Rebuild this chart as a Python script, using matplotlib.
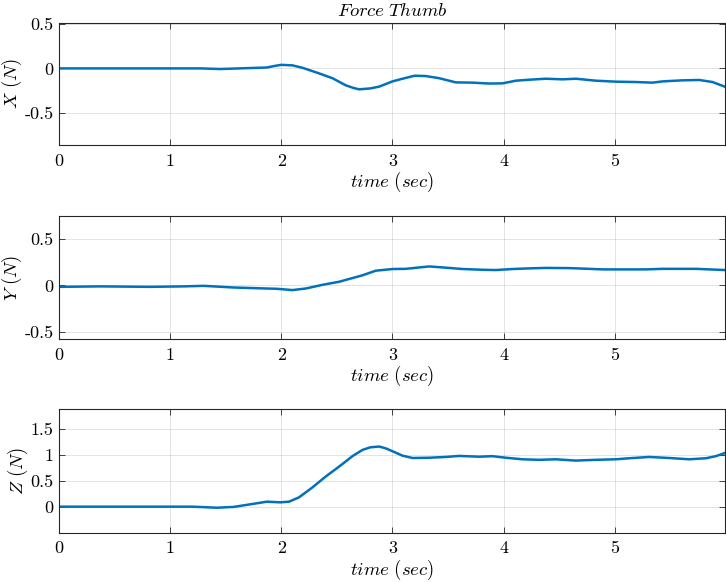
import matplotlib
matplotlib.use("Agg")
import matplotlib.pyplot as plt

plt.rcParams["mathtext.fontset"] = "cm"
plt.rcParams["font.family"] = "serif"
plt.rcParams["font.serif"] = ["cmr10"]
plt.rcParams["axes.formatter.use_mathtext"] = True

LINE_COLOR = "#0072BD"
EDGE_COLOR = "#262626"

# force along X (N)
t_x = [0.0, 0.5, 1.0, 1.27, 1.45, 1.72, 1.87, 1.95, 2.0, 2.1, 2.19, 2.34, 2.46, 2.58,
       2.65, 2.7, 2.73, 2.8, 2.88, 3.0, 3.09, 3.2, 3.3, 3.42, 3.57, 3.72, 3.87, 3.99, 4.11,
       4.23, 4.38, 4.53, 4.65, 4.83, 5.01, 5.19, 5.34, 5.43, 5.61, 5.76, 5.88, 5.99]
f_x = [0.0, 0.0, 0.0, 0.0, -0.007, 0.004, 0.01, 0.03, 0.04, 0.034, 0.007, -0.056, -0.11, -0.19,
       -0.22, -0.235, -0.232, -0.225, -0.205, -0.146, -0.116, -0.082, -0.086, -0.11, -0.157, -0.16, -0.17, -0.168, -0.138,
       -0.127, -0.116, -0.123, -0.116, -0.138, -0.149, -0.153, -0.16, -0.146, -0.134, -0.13, -0.153, -0.205]

# force along Y (N)
t_y = [0.0, 0.37, 0.82, 1.12, 1.3, 1.57, 1.87, 1.96, 2.1, 2.22, 2.37, 2.52, 2.73,
       2.85, 3.0, 3.12, 3.33, 3.51, 3.63, 3.81, 3.93, 4.08, 4.23, 4.38, 4.59, 4.77,
       4.89, 5.07, 5.28, 5.43, 5.73, 5.99]
f_y = [-0.015, -0.01, -0.015, -0.01, -0.004, -0.022, -0.033, -0.036, -0.05, -0.033, 0.007, 0.04, 0.11,
       0.16, 0.178, 0.18, 0.206, 0.19, 0.178, 0.17, 0.167, 0.178, 0.185, 0.19, 0.188, 0.18,
       0.174, 0.174, 0.174, 0.18, 0.18, 0.167]

# force along Z (N)
t_z = [0.0, 0.6, 1.2, 1.42, 1.57, 1.72, 1.87, 1.99, 2.07, 2.16, 2.28, 2.4, 2.52, 2.64,
       2.73, 2.8, 2.88, 2.94, 3.0, 3.09, 3.18, 3.33, 3.48, 3.6, 3.78, 3.9, 4.02, 4.17, 4.32, 4.47,
       4.65, 4.83, 5.01, 5.13, 5.31, 5.49, 5.67, 5.82, 5.91, 5.99]
f_z = [0.0, 0.0, 0.0, -0.02, -0.005, 0.045, 0.096, 0.083, 0.096, 0.18, 0.37, 0.58, 0.77, 0.97,
       1.09, 1.14, 1.155, 1.12, 1.065, 0.98, 0.935, 0.94, 0.955, 0.975, 0.96, 0.97, 0.94, 0.91, 0.9, 0.91,
       0.885, 0.9, 0.91, 0.93, 0.955, 0.935, 0.91, 0.93, 0.97, 1.03]

x_ticks = [0, 1, 2, 3, 4, 5]
panels = [
    (t_x, f_x, r"$X\ (N)$", (-0.86, 0.51), [-0.5, 0, 0.5], ["-0.5", "0", "0.5"], [0.0813, 0.7509, 0.917, 0.2096]),
    (t_y, f_y, r"$Y\ (N)$", (-0.58, 0.75), [-0.5, 0, 0.5], ["-0.5", "0", "0.5"], [0.0813, 0.4175, 0.917, 0.2110]),
    (t_z, f_z, r"$Z\ (N)$", (-0.5, 1.87), [0, 0.5, 1, 1.5], ["0", "0.5", "1", "1.5"], [0.0813, 0.0847, 0.917, 0.2120]),
]

fig = plt.figure(figsize=(7.26, 5.82), dpi=100)

for i, (t, f, ylab, ylim, yt, ytl, pos) in enumerate(panels):
    ax = fig.add_axes(pos)
    ax.plot(t, f, color=LINE_COLOR, linewidth=1.8)
    ax.set_xlim(0, 5.99)
    ax.set_ylim(*ylim)
    ax.set_xticks(x_ticks)
    ax.set_xticklabels([str(v) for v in x_ticks])
    ax.set_yticks(yt)
    ax.set_yticklabels(ytl)
    ax.grid(True, color=EDGE_COLOR, alpha=0.15, linewidth=0.6)
    ax.tick_params(direction="in", length=4, width=0.6, top=True, right=True,
                   colors=EDGE_COLOR, labelcolor="black", labelsize=13)
    ax.tick_params(axis="x", pad=6)
    ax.tick_params(axis="y", pad=4)
    for sp in ax.spines.values():
        sp.set_color(EDGE_COLOR)
        sp.set_linewidth(0.8)
    ax.set_xlabel(r"$time\ (sec)$", fontsize=13.5, labelpad=1)
    ax.set_ylabel(ylab, fontsize=13.5, labelpad=0)
    if i == 0:
        ax.set_title(r"$Force\ Thumb$", fontsize=13.5, pad=5)

fig.savefig("out.png", dpi=100)
